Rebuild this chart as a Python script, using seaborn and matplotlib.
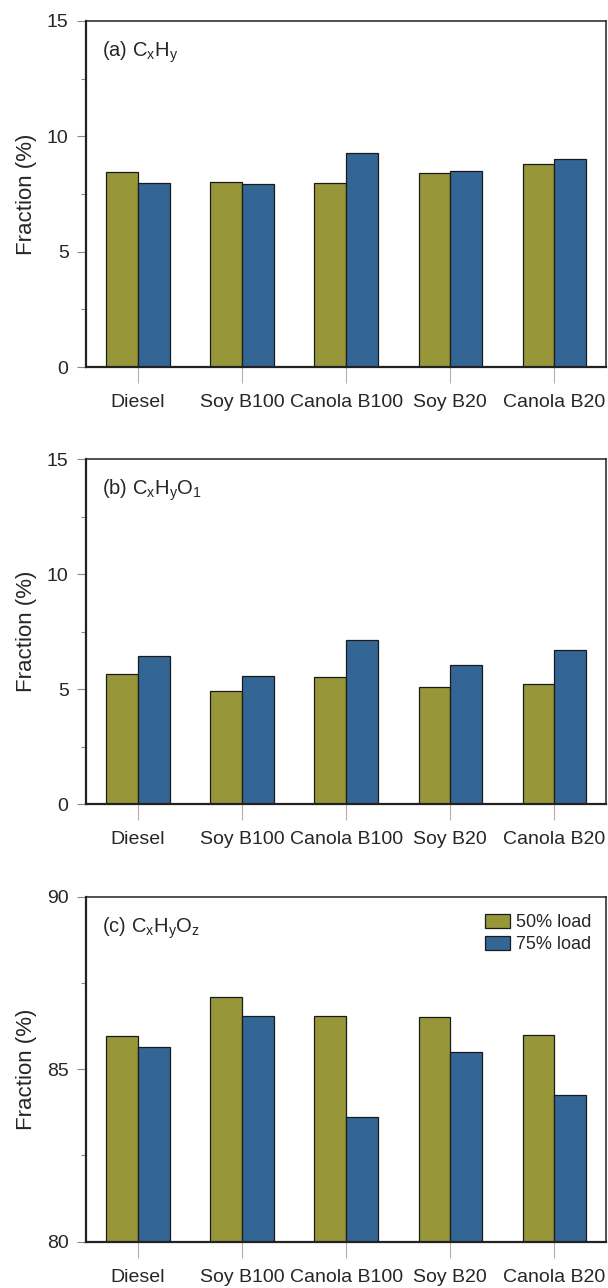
import numpy as np
import pandas as pd
import seaborn as sns
import matplotlib.pyplot as plt
from matplotlib.ticker import MultipleLocator

# data
fuels = ['Diesel', 'Soy B100', 'Canola B100', 'Soy B20', 'Canola B20']
loads = ['50% load', '75% load']

cxhy_50 = [8.44, 8.03, 7.97, 8.42, 8.80]
cxhy_75 = [7.97, 7.95, 9.29, 8.48, 9.04]

cxhyo1_50 = [5.66, 4.94, 5.52, 5.11, 5.24]
cxhyo1_75 = [6.44, 5.57, 7.13, 6.06, 6.72]

cxhyoz_50 = [85.97, 87.08, 86.54, 86.50, 86.00]
cxhyoz_75 = [85.65, 86.54, 83.62, 85.50, 84.26]

panel_titles = ['(a) C$_x$H$_y$', '(b) C$_x$H$_y$O$_1$', '(c) C$_x$H$_y$O$_z$']

sns.set_style('white')
plt.rcParams['font.family'] = ['Liberation Sans', 'DejaVu Sans']
plt.rcParams['mathtext.default'] = 'regular'

palette = {'50% load': '#979638', '75% load': '#336595'}


def make_frame(v50, v75):
    return pd.DataFrame({
        'fuel': fuels * 2,
        'load': [loads[0]] * len(fuels) + [loads[1]] * len(fuels),
        'value': list(v50) + list(v75),
    })


panels = [
    (make_frame(cxhy_50, cxhy_75), (0, 15), 5),
    (make_frame(cxhyo1_50, cxhyo1_75), (0, 15), 5),
    (make_frame(cxhyoz_50, cxhyoz_75), (80, 90), 5),
]

fig = plt.figure(figsize=(6.08, 12.88), dpi=100, facecolor='white')
boxes = [(0.9837, 0.715), (0.6436, 0.3756), (0.3038, 0.0359)]

for i, ((df, ylim, major), (top, bottom), title) in enumerate(zip(panels, boxes, panel_titles)):
    ax = fig.add_axes([0.1414, bottom, 0.9975 - 0.1414, top - bottom])
    sns.barplot(data=df, x='fuel', y='value', hue='load', order=fuels,
                hue_order=loads, palette=palette, width=0.61, saturation=1,
                edgecolor='#1a1a1a', linewidth=0.9, errorbar=None,
                legend=(i == 2), ax=ax)
    ax.set_ylim(*ylim)
    ax.set_xlim(-0.5, 4.5)
    ax.yaxis.set_major_locator(MultipleLocator(major))
    ax.yaxis.set_minor_locator(MultipleLocator(major / 2))
    ax.tick_params(axis='y', which='major', left=True, length=6.5, width=0.8,
                   color='#888888', pad=6, labelsize=14)
    ax.tick_params(axis='y', which='minor', left=True, length=3.5, width=0.8,
                   color='#888888')
    ax.tick_params(axis='x', bottom=True, length=11.5, width=0.8,
                   color='#b0b0b0', pad=8, labelsize=14)
    ax.set_xlabel('')
    ax.set_ylabel('Fraction (%)', fontsize=16, labelpad=7)
    for s in ax.spines.values():
        s.set_visible(True)
        s.set_color('#222222')
        s.set_linewidth(1.1)
    ax.spines['bottom'].set_linewidth(1.6)
    ax.spines['left'].set_linewidth(1.6)
    ax.text(0.03, 0.91, title, transform=ax.transAxes, fontsize=14.5,
            ha='left', va='center')
    if i == 2:
        ax.legend(loc='upper right', bbox_to_anchor=(0.985, 0.972),
                  frameon=False, fontsize=13, handlelength=1.35,
                  handleheight=0.85, handletextpad=0.35, labelspacing=0.25,
                  borderaxespad=0)

fig.savefig('out.png', dpi=100, facecolor='white')
